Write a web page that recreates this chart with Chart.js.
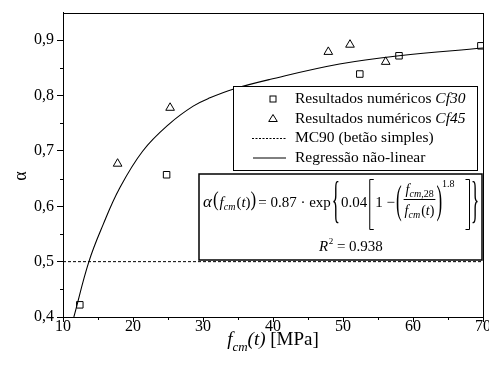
<!DOCTYPE html>
<html>
<head>
<meta charset="utf-8">
<script src="https://cdn.jsdelivr.net/npm/chart.js@4/dist/chart.umd.min.js"></script>
<style>
  html, body { margin: 0; padding: 0; background: #fff; }
  canvas { display: block; }
</style>
</head>
<body>
<canvas id="chart" width="489" height="378"></canvas>
<script>
// valores
const cf30X = [12.4, 24.8, 52.4, 58.0, 69.7];
const cf30Y = [0.422, 0.657, 0.839, 0.872, 0.890];
const cf45X = [17.8, 25.3, 47.9, 51.0, 56.1];
const cf45Y = [0.677, 0.778, 0.879, 0.892, 0.861];
// regressão não-linear (pontos lidos ao longo da curva)
const regX = [11.55, 13.7, 15.7, 18.1, 21.4, 25.2, 28.6, 31.0, 34.4, 39.5, 49.5, 58.0, 70.0];
const regY = [0.400, 0.500, 0.566, 0.633, 0.700, 0.749, 0.781, 0.796, 0.812, 0.829, 0.857, 0.872, 0.886];
// MC90 (betão simples)
const mc90X = [10, 70];
const mc90Y = [0.5, 0.5];

const xTicks = [10, 20, 30, 40, 50, 60, 70];
const yTicks = [0.4, 0.5, 0.6, 0.7, 0.8, 0.9];
const xMinor = [15, 25, 35, 45, 55, 65];
const yMinor = [0.45, 0.55, 0.65, 0.75, 0.85];

const legendItems = ['Resultados numéricos ', 'Resultados numéricos ', 'MC90 (betão simples)', 'Regressão não-linear'];
const legendItalic = ['Cf30', 'Cf45', '', ''];

const SERIF = '"Liberation Serif", "Times New Roman", serif';

function pts(xs, ys) {
    return xs.map((x, i) => ({ x: x, y: ys[i] }));
}

function font(size, italic) {
    return (italic ? 'italic ' : '') + size + 'px ' + SERIF;
}

// escreve texto e devolve a posição seguinte
function put(ctx, s, x, y, size, italic) {
    ctx.font = font(size, italic);
    ctx.fillText(s, x, y);
    return x + ctx.measureText(s).width;
}

// glifo esticado na vertical (parênteses, chavetas)
function tall(ctx, s, x, yMid, size, k) {
    ctx.save();
    ctx.font = font(size, false);
    ctx.translate(x, yMid + 0.25 * size * k);
    ctx.scale(1, k);
    ctx.fillText(s, 0, 0);
    const w = ctx.measureText(s).width;
    ctx.restore();
    return x + w;
}

function bracket(ctx, x, top, bot, right) {
    const d = right ? -4 : 4;
    ctx.beginPath();
    ctx.moveTo(x + d, top); ctx.lineTo(x, top); ctx.lineTo(x, bot); ctx.lineTo(x + d, bot);
    ctx.stroke();
}

const decor = {
    id: 'decor',
    afterDraw(chart) {
        const ctx = chart.ctx;
        const a = chart.chartArea;
        const sx = chart.scales.x, sy = chart.scales.y;
        ctx.save();
        ctx.strokeStyle = '#000';
        ctx.fillStyle = '#000';
        ctx.lineWidth = 1;

        // moldura
        ctx.strokeRect(Math.round(a.left) + 0.5, Math.round(a.top) + 0.5,
            Math.round(a.right - a.left), Math.round(a.bottom - a.top));

        // marcas secundárias
        ctx.beginPath();
        xMinor.forEach(v => {
            const px = Math.round(sx.getPixelForValue(v)) + 0.5;
            ctx.moveTo(px, a.bottom); ctx.lineTo(px, a.bottom + 3);
        });
        yMinor.forEach(v => {
            const py = Math.round(sy.getPixelForValue(v)) + 0.5;
            ctx.moveTo(a.left, py); ctx.lineTo(a.left - 3, py);
        });
        ctx.stroke();

        // título do eixo x: f_cm(t) [MPa]
        ctx.textBaseline = 'alphabetic';
        ctx.textAlign = 'left';
        ctx.font = font(19, true);
        let w = ctx.measureText('f').width + ctx.measureText('(t)').width;
        ctx.font = font(13, true);
        w += ctx.measureText('cm').width;
        ctx.font = font(19, false);
        w += ctx.measureText(' [MPa]').width;
        let cx = (a.left + a.right) / 2 - w / 2;
        cx = put(ctx, 'f', cx, 345, 19, true);
        cx = put(ctx, 'cm', cx, 351, 13, true);
        cx = put(ctx, '(t)', cx, 345, 19, true);
        put(ctx, ' [MPa]', cx, 345, 19, false);

        // título do eixo y: α
        ctx.save();
        ctx.translate(26, 176);
        ctx.rotate(-Math.PI / 2);
        ctx.textAlign = 'center';
        put(ctx, 'α', 0, 0, 18, false);
        ctx.restore();

        // caixa da legenda
        ctx.fillStyle = '#fff';
        ctx.fillRect(233, 86, 244, 84);
        ctx.strokeRect(233.5, 86.5, 244, 84);
        ctx.fillStyle = '#000';
        const rowY = [99, 118.5, 138, 157.5];
        const symX = 273;
        ctx.textBaseline = 'middle';
        legendItems.forEach((t, i) => {
            let x = put(ctx, t, 295, rowY[i], 15.5, false);
            if (legendItalic[i]) put(ctx, legendItalic[i], x, rowY[i], 15.5, true);
        });
        // símbolos
        ctx.lineWidth = 1;
        ctx.strokeRect(symX - 3, rowY[0] - 3, 6, 6);
        ctx.beginPath();
        ctx.moveTo(symX, rowY[1] - 4);
        ctx.lineTo(symX + 4.3, rowY[1] + 3);
        ctx.lineTo(symX - 4.3, rowY[1] + 3);
        ctx.closePath();
        ctx.stroke();
        ctx.save();
        ctx.setLineDash([2, 1.5]);
        ctx.beginPath();
        ctx.moveTo(252, rowY[2] + 0.5); ctx.lineTo(286, rowY[2] + 0.5);
        ctx.stroke();
        ctx.restore();
        ctx.beginPath();
        ctx.moveTo(253, rowY[3] + 0.5); ctx.lineTo(286, rowY[3] + 0.5);
        ctx.stroke();

        // caixa da equação
        ctx.fillStyle = '#fff';
        ctx.fillRect(199, 174, 283, 86);
        ctx.lineWidth = 1.5;
        ctx.strokeRect(199, 174, 283, 86);
        ctx.fillStyle = '#000';
        ctx.lineWidth = 1;
        ctx.textBaseline = 'alphabetic';

        const B = 207;   // linha de base da equação
        let x = 203;
        x = put(ctx, 'α', x, B, 17, true) + 1;
        x = tall(ctx, '(', x, 201, 17, 1.25) + 1;
        x = put(ctx, 'f', x, B, 15, true);
        x = put(ctx, 'cm', x, B + 3, 10, true) + 1;
        x = put(ctx, '(', x, B, 15, false);
        x = put(ctx, 't', x, B, 15, true);
        x = put(ctx, ')', x, B, 15, false);
        x = tall(ctx, ')', x, 201, 17, 1.25) + 2;
        x = put(ctx, '= 0.87 · exp', x, B, 15, false) + 1;
        x = tall(ctx, '{', x, 203, 17, 3.0) + 1;
        x = put(ctx, '0.04', x, B, 15, false) + 2;
        bracket(ctx, x + 0.5, 179.5, 229.5, false);
        x += 6;
        x = put(ctx, '1 −', x, B, 15, false) + 1;
        x = tall(ctx, '(', x, 203, 17, 2.3) + 2;
        const fx = x;
        // numerador
        let nx = put(ctx, 'f', fx + 2, 194, 14, true);
        nx = put(ctx, 'cm', nx, 197, 10, true);
        nx = put(ctx, ',28', nx, 197, 10, false);
        // denominador
        let dx = put(ctx, 'f', fx + 1, 215, 14, true);
        dx = put(ctx, 'cm', dx, 218, 10, true) + 1;
        dx = put(ctx, '(', dx, 215, 14, false);
        dx = put(ctx, 't', dx, 215, 14, true);
        dx = put(ctx, ')', dx, 215, 14, false);
        const fend = Math.max(nx, dx) + 1;
        ctx.beginPath();
        ctx.moveTo(fx, 199.5); ctx.lineTo(fend, 199.5);
        ctx.stroke();
        x = tall(ctx, ')', fend + 1, 203, 17, 2.3);
        put(ctx, '1.8', x, 187, 10, false);
        bracket(ctx, 469.5, 179.5, 229.5, true);
        tall(ctx, '}', 471, 203, 17, 3.0);

        // R² = 0.938
        let rx = 319;
        rx = put(ctx, 'R', rx, 251, 15, true);
        rx = put(ctx, '2', rx + 0.5, 244, 9, false);
        put(ctx, ' = 0.938', rx, 251, 15, false);

        ctx.restore();
    }
};

const ctx = document.getElementById('chart').getContext('2d');
const chart = new Chart(ctx, {
    type: 'scatter',
    data: {
        datasets: [{
            label: 'Resultados numéricos Cf30',
            data: pts(cf30X, cf30Y),
            pointStyle: 'rect',
            pointRadius: 4.6,
            pointBorderColor: '#000',
            pointBackgroundColor: 'rgba(0,0,0,0)',
            pointBorderWidth: 1
        }, {
            label: 'Resultados numéricos Cf45',
            data: pts(cf45X, cf45Y),
            pointStyle: 'triangle',
            pointRadius: 5,
            pointBorderColor: '#000',
            pointBackgroundColor: 'rgba(0,0,0,0)',
            pointBorderWidth: 1
        }, {
            label: 'MC90 (betão simples)',
            data: pts(mc90X, mc90Y),
            showLine: true,
            borderColor: '#000',
            borderWidth: 1,
            borderDash: [3, 2],
            pointRadius: 0
        }, {
            label: 'Regressão não-linear',
            data: pts(regX, regY),
            showLine: true,
            borderColor: '#000',
            borderWidth: 1.1,
            tension: 0.4,
            pointRadius: 0
        }]
    },
    options: {
        responsive: false,
        animation: false,
        layout: { padding: { top: 11, right: 6, left: 0, bottom: 0 } },
        plugins: {
            legend: { display: false },
            tooltip: { enabled: false }
        },
        scales: {
            x: {
                type: 'linear',
                min: 10,
                max: 70,
                afterFit: s => { s.height = 61; },
                afterBuildTicks: s => { s.ticks = xTicks.map(v => ({ value: v })); },
                grid: { drawOnChartArea: false, tickLength: 5, tickColor: '#000' },
                border: { color: '#000', width: 1 },
                ticks: {
                    color: '#000',
                    padding: -5,
                    maxRotation: 0,
                    font: { family: SERIF, size: 16 },
                    callback: v => String(v)
                }
            },
            y: {
                type: 'linear',
                min: 0.4,
                max: 0.95,
                afterFit: s => { s.width = 63; },
                afterBuildTicks: s => { s.ticks = yTicks.map(v => ({ value: v })); },
                grid: { drawOnChartArea: false, tickLength: 6, tickColor: '#000' },
                border: { color: '#000', width: 1 },
                ticks: {
                    color: '#000',
                    padding: 3,
                    font: { family: SERIF, size: 16 },
                    callback: v => v.toFixed(1).replace('.', ',')
                }
            }
        }
    },
    plugins: [decor]
});
</script>
</body>
</html>
